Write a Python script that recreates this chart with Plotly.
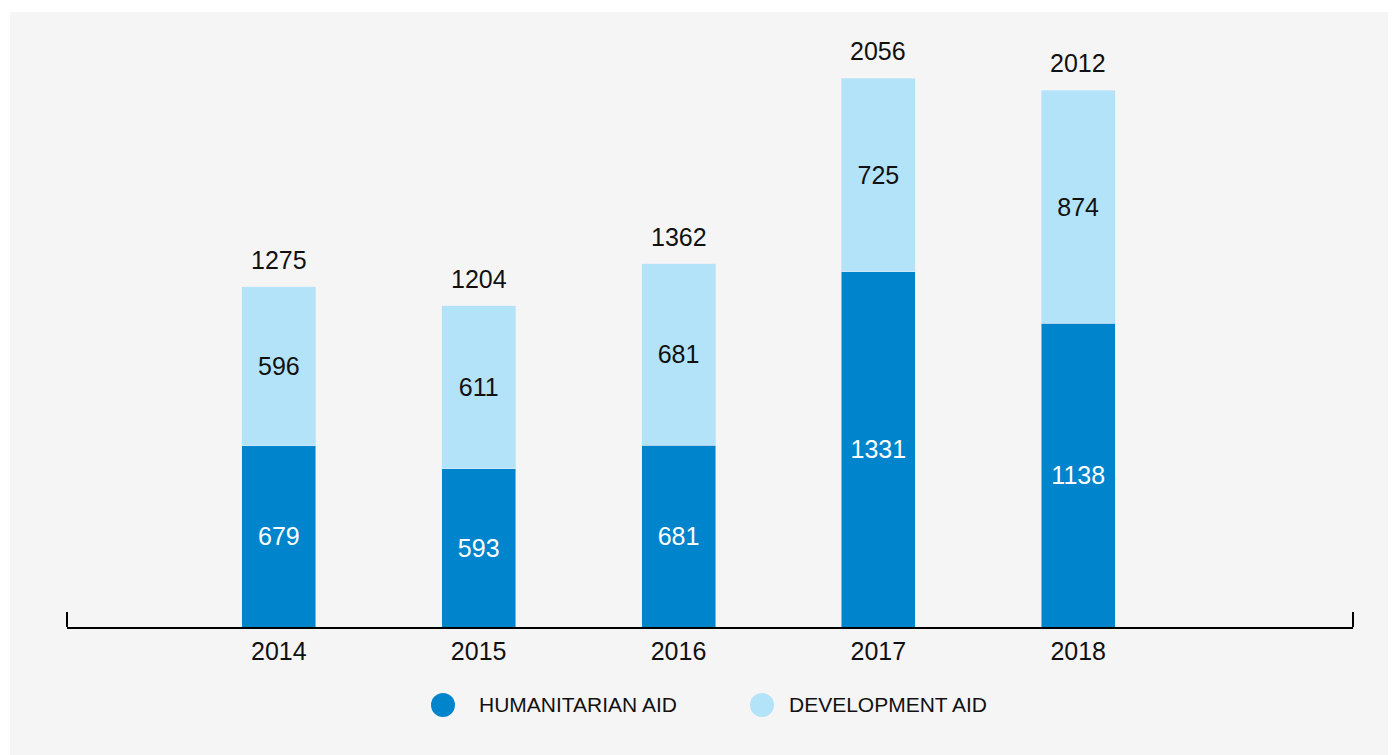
import plotly.graph_objects as go

years = ["2014", "2015", "2016", "2017", "2018"]
humanitarian = [679, 593, 681, 1331, 1138]
development = [596, 611, 681, 725, 874]
totals = [1275, 1204, 1362, 2056, 2012]
legend_names = ["HUMANITARIAN AID", "DEVELOPMENT AID"]

C_HUM = "#0085CC"
C_DEV = "#B3E3F9"
FONT = "Liberation Sans"

W, H = 1396, 755
L, R, T, B = 59, 51, 32, 136
PW, PH = W - L - R, H - T - B

def px(xf):
    return (xf - L) / PW

def py(yf):
    return (H - B - yf) / PH

idx = list(range(len(years)))

fig = go.Figure()
fig.add_trace(go.Bar(x=idx, y=humanitarian, marker_color=C_HUM, width=0.37,
                     text=humanitarian, textposition="inside", insidetextanchor="middle",
                     textfont=dict(color="white", size=25, family=FONT),
                     showlegend=False, hoverinfo="skip"))
fig.add_trace(go.Bar(x=idx, y=development, marker_color=C_DEV, width=0.37,
                     text=development, textposition="inside", insidetextanchor="middle",
                     textfont=dict(color="#111111", size=25, family=FONT),
                     showlegend=False, hoverinfo="skip"))

for i, t in zip(idx, totals):
    fig.add_annotation(x=i, y=t, text=str(t), showarrow=False, yanchor="bottom",
                       yshift=11, font=dict(size=25, color="#111111", family=FONT))

# gray panel background
fig.add_shape(type="rect", xref="paper", yref="paper", x0=px(2), x1=px(W + 20),
              y0=py(H + 20), y1=py(4), fillcolor="#F5F5F5", line_width=0, layer="below")
# end ticks on x axis
for xd in (0, 1):
    fig.add_shape(type="line", xref="x domain", x0=xd, x1=xd, yref="y", ysizemode="pixel",
                  yanchor=0, y0=0, y1=15, line=dict(color="black", width=2))

# manual legend with large circles
legend_items = [(legend_names[0], C_HUM, 435, 469), (legend_names[1], C_DEV, 754, 779)]
ly = py(697)
for name, col, cx, tx in legend_items:
    fig.add_shape(type="circle", xref="paper", yref="paper", xsizemode="pixel", ysizemode="pixel",
                  xanchor=px(cx), yanchor=ly, x0=-12, x1=12, y0=-12, y1=12,
                  fillcolor=col, line_width=0)
    fig.add_annotation(xref="paper", yref="paper", x=px(tx), y=ly, text=name, showarrow=False,
                       xanchor="left", yanchor="middle",
                       font=dict(size=21, color="#111111", family=FONT))

fig.update_layout(
    width=W, height=H,
    margin=dict(l=L, r=R, t=T, b=B),
    barmode="stack",
    paper_bgcolor="white", plot_bgcolor="rgba(0,0,0,0)",
    font=dict(family=FONT, color="#111111"),
    showlegend=False,
    xaxis=dict(range=[-1.06, 5.375], showline=True, linecolor="black",
               linewidth=2, ticks="", showgrid=False, zeroline=False,
               tickmode="array", tickvals=idx, ticktext=years,
               tickfont=dict(size=25, color="#111111", family=FONT), ticklabelstandoff=1),
    yaxis=dict(range=[0, 2200], visible=False, showgrid=False, zeroline=False),
)

fig.write_html("out.html")
